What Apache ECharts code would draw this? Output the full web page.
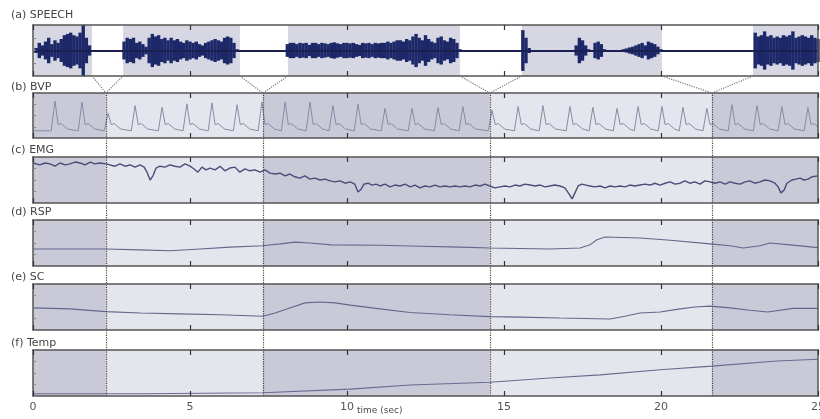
<!DOCTYPE html>
<html><head><meta charset="utf-8">
<script src="https://cdn.jsdelivr.net/npm/echarts/dist/echarts.min.js"></script>
<style>html,body{margin:0;padding:0;background:#fff}#c{width:820px;height:419px}</style>
</head><body><div id="c"></div>
<script>
const panelLabels = ['(a) SPEECH', '(b) BVP', '(c) EMG', '(d) RSP', '(e) SC', '(f) Temp'];
const xTickLabels = ['0', '5', '10', '15', '20', '25'];
const axisTitle = 'time (sec)';
const lowerBounds = [0, 2.32, 7.32, 14.55, 21.62, 25];
const speechShaded = [[0, 1.88], [2.87, 6.59], [8.12, 13.6], [15.57, 20.03], [22.93, 25]];
const speechGaps = [[1.88, 2.87], [6.59, 8.12], [13.6, 15.57], [20.03, 22.93]];
const speechStep = 0.1;
const speechEnv = [
 0,0.1,0.3,0.2,0.35,0.5,0.25,0.4,0.3,0.45,0.6,0.65,0.7,0.6,0.55,0.7,1.0,0.5,0.2,
 0,0,0,0,0,0,0,0,0,0,
 0.35,0.5,0.45,0.5,0.3,0.35,0.25,0.15,0.5,0.65,0.55,0.6,0.45,0.5,0.4,0.5,0.4,0.45,0.35,0.3,0.4,0.35,0.3,0.35,0.25,0.2,0.3,0.35,0.4,0.45,0.4,0.35,0.5,0.55,0.5,0.3,0.05,
 0,0,0,0,0,0,0,0,0,0,0,0,0,0,0,
 0.25,0.3,
 0.3,0.25,0.3,0.28,0.3,0.22,0.3,0.3,0.25,0.3,0.28,0.25,0.3,0.32,0.28,0.25,0.3,0.3,0.28,0.3,0.25,0.22,0.3,0.28,0.3,0.25,0.3,0.28,0.3,0.3,0.35,0.3,0.35,0.4,
 0.4,0.35,0.45,0.4,0.55,0.65,0.5,0.4,0.6,0.45,0.35,0.3,0.5,0.55,0.4,0.35,0.5,0.45,0.3,0.05,
 0,0,0,0,0,0,0,0,0,0,0,0,0,0,0,0,0,0,0,
 0.8,0.5,0.1,
 0,0,0,0,0,0,0,0,0,0,0,0,0,0,
 0.2,0.5,0.4,0.2,0.05,
 0,
 0.3,0.35,0.25,0.05,
 0,0,0,0,0,
 0.05,0.08,0.12,0.15,0.2,0.25,0.3,0.2,0.35,0.3,0.25,0.15,0.05,
 0,0,0,0,0,0,0,0,0,0,0,0,0,0,0,0,0,0,0,0,0,0,0,0,0,0,0,0,0,
 0.7,0.55,0.6,0.75,0.55,0.6,0.5,0.55,0.5,0.6,0.55,0.6,0.75,0.5,0.55,0.6,0.55,0.5,0.6,0.5,0.45
];
const bvpBase = 16;
const bvpPeakT = [0.70,1.56,2.39,3.25,4.11,4.90,5.70,6.50,7.29,8.03,8.82,9.55,10.35,11.21,12.07,12.90,13.69,14.62,15.45,16.24,17.10,17.83,18.60,19.27,20.03,20.70,21.46,22.26,23.06,23.85,24.68];
const bvpPeakV = [82,80,55,72,68,76,78,74,80,80,80,72,76,66,66,68,70,62,70,72,70,68,66,70,70,68,66,74,72,70,68];
const emg = [[0,87],[0.22,83],[0.38,87],[0.54,85],[0.70,80],[0.86,87],[1.02,83],[1.18,85],[1.34,89],[1.50,87],[1.66,83],[1.82,89],[1.97,85],[2.13,87],[2.32,85],[2.45,83],[2.61,80],[2.77,85],[2.93,80],[3.09,83],[3.25,78],[3.41,83],[3.54,78],[3.63,67],[3.73,50],[3.82,59],[3.92,76],[4.04,80],[4.20,78],[4.36,83],[4.52,80],[4.68,78],[4.84,85],[5.0,80],[5.13,74],[5.25,67],[5.38,78],[5.51,72],[5.64,76],[5.80,72],[5.96,80],[6.11,70],[6.27,76],[6.43,78],[6.59,67],[6.75,74],[6.91,70],[7.07,72],[7.23,67],[7.39,72],[7.55,65],[7.71,63],[7.87,65],[8.03,59],[8.18,63],[8.34,57],[8.50,54],[8.66,59],[8.82,52],[8.98,54],[9.14,50],[9.30,52],[9.46,48],[9.62,46],[9.78,48],[9.94,43],[10.10,46],[10.25,41],[10.35,24],[10.45,30],[10.54,41],[10.67,43],[10.80,39],[10.92,41],[11.05,37],[11.21,41],[11.37,35],[11.53,39],[11.69,37],[11.85,41],[12.01,35],[12.17,39],[12.32,33],[12.48,37],[12.64,35],[12.80,39],[12.96,35],[13.12,37],[13.28,35],[13.44,37],[13.60,35],[13.76,37],[13.92,35],[14.08,39],[14.24,37],[14.39,41],[14.55,37],[14.71,33],[14.87,35],[15.03,37],[15.19,35],[15.35,39],[15.51,37],[15.67,41],[15.83,39],[15.99,37],[16.15,39],[16.31,35],[16.46,37],[16.62,39],[16.78,37],[16.94,33],[17.07,20],[17.17,9],[17.26,22],[17.36,37],[17.48,41],[17.61,39],[17.74,37],[17.90,35],[18.06,37],[18.22,33],[18.38,37],[18.54,35],[18.69,37],[18.85,35],[19.01,39],[19.17,37],[19.33,39],[19.49,41],[19.65,39],[19.81,43],[19.97,39],[20.13,43],[20.29,46],[20.45,41],[20.61,43],[20.76,48],[20.92,43],[21.08,46],[21.24,41],[21.40,48],[21.56,46],[21.72,43],[21.88,46],[22.04,41],[22.20,46],[22.36,43],[22.52,41],[22.68,46],[22.83,48],[22.99,43],[23.15,46],[23.31,50],[23.47,48],[23.63,43],[23.73,35],[23.82,22],[23.92,28],[24.01,43],[24.17,50],[24.30,52],[24.43,54],[24.55,50],[24.68,52],[24.81,57],[25.0,59]];
const rsp = [[0,37],[1.18,37],[2.32,37],[3.41,35],[4.36,33],[5.32,37],[6.27,41],[7.32,44],[7.87,48],[8.34,52],[8.82,50],[9.50,46],[11.05,45],[12.32,43],[13.60,41],[14.55,39],[15.51,38],[16.46,37],[17.42,39],[17.74,46],[17.96,57],[18.22,63],[19.33,61],[20.30,56],[21.56,48],[22.20,44],[22.62,39],[23.15,44],[23.47,50],[24.11,46],[24.84,41],[25,40]];
const sc = [[0,48],[1.18,46],[2.32,40],[3.41,37],[4.68,35],[5.96,33],[7.32,30],[7.71,37],[8.18,48],[8.66,59],[9.14,61],[9.62,59],[10.10,54],[11.05,46],[12.01,38],[13.28,33],[14.55,29],[15.51,28],[16.78,26],[18.38,24],[18.85,30],[19.33,37],[19.97,39],[20.61,46],[21.08,50],[21.56,52],[22.20,48],[22.83,43],[23.40,39],[24.20,47],[25,47]];
const temp = [[0,5],[3.5,5],[7.32,7],[10.10,15],[12.01,24],[14.55,30],[16.46,39],[18.06,46],[19.97,57],[21.62,65],[23.70,76],[25,80]];

function bvpSeries() {
  const pts = [[0, bvpBase]];
  bvpPeakT.forEach((p, i) => {
    pts.push([p - 0.12, bvpBase], [p, bvpPeakV[i]], [p + 0.1, 30], [p + 0.2, 32], [p + 0.4, bvpBase + 4]);
  });
  pts.push([25, bvpBase]);
  return pts;
}

const grids = [
  {top: 25, height: 51}, {top: 93, height: 45}, {top: 157, height: 46},
  {top: 220, height: 46}, {top: 284, height: 46}, {top: 350, height: 46},
  {top: 93, height: 303}, {top: 76, height: 17}
].map(g => Object.assign({left: 33, right: 2, outerBoundsMode: 'none', containLabel: false}, g));

const xAxes = [], yAxes = [];
const lineC = '#555';
for (let g = 0; g < 6; g++) {
  const last = g === 5;
  ['bottom', 'top'].forEach(pos => {
    xAxes.push({
      type: 'value', gridIndex: g, min: 0, max: 25, interval: 5, position: pos, z: 5,
      axisLine: {show: true, onZero: false, lineStyle: {color: lineC, width: 1.5}},
      axisTick: {show: true, inside: true, length: 5, lineStyle: {color: '#333', width: 1.2}},
      splitLine: {show: false},
      axisLabel: {show: last && pos === 'bottom', margin: 6, color: '#555', fontSize: 11,
        fontFamily: 'DejaVu Sans', hideOverlap: false, formatter: v => xTickLabels[Math.round(v / 5)]}
    });
  });
  const ymin = g === 0 ? -1 : 0, ymax = g === 0 ? 1 : 100, yint = g === 0 ? 0.5 : 25;
  ['left', 'right'].forEach(pos => {
    yAxes.push({
      type: 'value', gridIndex: g, min: ymin, max: ymax, interval: yint, position: pos, z: 5,
      axisLine: {show: true, onZero: false, lineStyle: {color: lineC, width: 1.5}},
      axisTick: {show: pos === 'left', inside: true, length: 3, lineStyle: {color: '#888'}},
      splitLine: {show: false}, axisLabel: {show: false}
    });
  });
}
for (let g = 6; g < 8; g++) {
  xAxes.push({type: 'value', gridIndex: g, min: 0, max: 25, show: false});
  yAxes.push({type: 'value', gridIndex: g, min: 0, max: 1, show: false});
}

const darkC = '#c9c9d7', lightC = '#e5e5ed', speechC = '#d7d7e3';
const lowerAreas = lowerBounds.slice(0, -1).map((b, i) => [
  {xAxis: b, itemStyle: {color: i % 2 === 0 ? darkC : lightC}}, {xAxis: lowerBounds[i + 1]}
]);

const series = [];
series.push({
  type: 'line', xAxisIndex: 0, yAxisIndex: 0, data: [], silent: true,
  markArea: {silent: true, data: speechShaded.map(r => [{xAxis: r[0], itemStyle: {color: speechC}}, {xAxis: r[1]}])},
  markLine: {silent: true, symbol: ['none', 'none'], label: {show: false},
    lineStyle: {color: '#1a2050', width: 2, type: 'solid'}, data: [{yAxis: 0}]}
});
series.push({
  type: 'custom', xAxisIndex: 0, yAxisIndex: 0, z: 3,
  data: speechEnv.map((a, i) => [i * speechStep, a]),
  encode: {x: 0, y: 1},
  renderItem: function (params, api) {
    const t = api.value(0), a = api.value(1);
    if (!(a > 0)) return null;
    const p1 = api.coord([t, a]), p2 = api.coord([t, -a]);
    return {type: 'line', shape: {x1: p1[0], y1: p1[1], x2: p2[0], y2: p2[1]},
      style: {stroke: '#1c2868', lineWidth: 3.4}};
  }
});
const lowerData = [bvpSeries(), emg, rsp, sc, temp];
const lowerColors = ['#8a8aa6', '#4c4c7a', '#66668c', '#66668c', '#6a6a90'];
const lowerWidths = [1, 1.4, 1.1, 1.1, 1.1];
lowerData.forEach((d, k) => {
  const g = k + 1;
  series.push({
    type: 'line', xAxisIndex: 2 * g, yAxisIndex: 2 * g, data: d, showSymbol: false, symbol: 'none',
    lineStyle: {color: lowerColors[k], width: lowerWidths[k]},
    markArea: {silent: true, data: lowerAreas}
  });
});
series.push({
  type: 'line', xAxisIndex: 12, yAxisIndex: 12, data: [], z: 6, silent: true,
  markLine: {silent: true, symbol: ['none', 'none'], label: {show: false},
    lineStyle: {color: '#444', width: 1.2, type: 'dotted'},
    data: lowerBounds.slice(1, -1).map(b => ({xAxis: b}))}
});
speechGaps.forEach((gp, i) => {
  series.push({
    type: 'line', xAxisIndex: 13, yAxisIndex: 13, symbol: 'none', silent: true, z: 6,
    lineStyle: {color: '#777', width: 1.2, type: 'dotted'},
    data: [[gp[0], 1], [lowerBounds[i + 1], 0], [gp[1], 1]]
  });
});

const labelTops = [10, 82, 145, 207, 272, 338];
const titles = panelLabels.map((t, i) => ({
  text: t, left: 11, top: labelTops[i], padding: 0,
  textStyle: {fontSize: 11, fontWeight: 'normal', color: '#444', fontFamily: 'DejaVu Sans'}
}));
titles.push({text: axisTitle, left: 357, top: 406, padding: 0,
  textStyle: {fontSize: 9, fontWeight: 'normal', color: '#4a4a4a', fontFamily: 'DejaVu Sans'}});

const chart = echarts.init(document.getElementById('c'));
chart.setOption({
  animation: false, backgroundColor: '#fff',
  title: titles, grid: grids, xAxis: xAxes, yAxis: yAxes, series: series
});
</script></body></html>
